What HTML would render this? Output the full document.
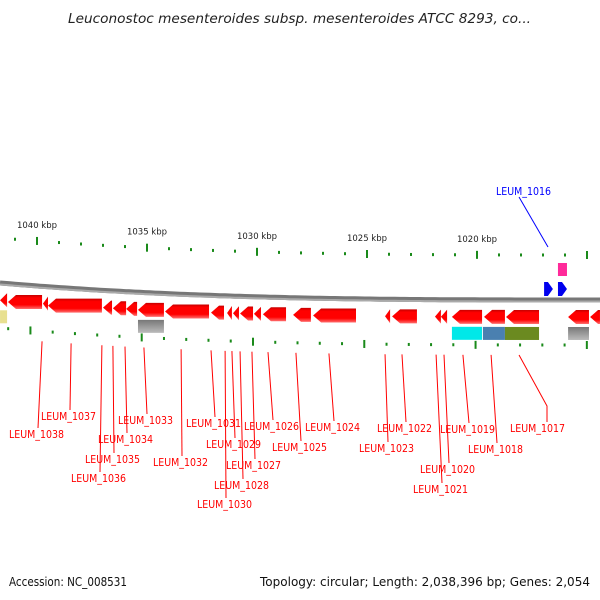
<!DOCTYPE html>
<html><head><meta charset="utf-8"><style>
body{margin:0;background:#fff}
svg{display:block}
text{font-family:"DejaVu Sans","Liberation Sans",sans-serif}
</style></head><body>
<svg id="c" width="600" height="600" viewBox="0 0 600 600" xmlns="http://www.w3.org/2000/svg">
<defs>
<linearGradient id="gr" x1="0" y1="0" x2="0" y2="1"><stop offset="0" stop-color="#c40000"/><stop offset="0.2" stop-color="#ff0000"/><stop offset="0.7" stop-color="#ff0000"/><stop offset="1" stop-color="#ff7070"/></linearGradient>
<linearGradient id="gb" x1="0" y1="0" x2="0" y2="1"><stop offset="0" stop-color="#777"/><stop offset="0.5" stop-color="#999"/><stop offset="1" stop-color="#bbb"/></linearGradient>
</defs>
<text x="68" y="23" font-size="13" font-style="italic" fill="#222" textLength="463" lengthAdjust="spacingAndGlyphs">Leuconostoc mesenteroides subsp. mesenteroides ATCC 8293, co...</text>
<text x="9" y="586" font-size="12" fill="#111" textLength="118" lengthAdjust="spacingAndGlyphs">Accession: NC_008531</text>
<text x="260" y="586" font-size="12" fill="#111" textLength="330" lengthAdjust="spacingAndGlyphs">Topology: circular; Length: 2,038,396 bp; Genes: 2,054</text>
<g id="g"></g>
</svg>
<script>
const tickKbp=[1040,1035,1030,1025,1020];
const geneStart=[1041.68,1041.32,1039.73,1039.50,1037.00,1036.55,1035.95,1035.41,1034.18,1032.09,1031.36,1031.09,1030.77,1030.14,1029.73,1028.36,1027.45,1024.18,1023.86,1021.91,1021.64,1021.14,1019.68,1018.68,1015.86,1014.86];
const geneEnd=[1041.36,1039.77,1039.50,1037.05,1036.59,1035.95,1035.45,1034.23,1032.18,1031.50,1031.14,1030.82,1030.18,1029.82,1028.68,1027.55,1025.50,1023.95,1022.73,1021.64,1021.36,1019.77,1018.73,1017.18,1014.91,1014.41];
const fwdStart=[1016.95,1016.32];
const fwdEnd=[1016.55,1015.91];
const annotStart=[1041.68,1035.41,1021.14,1019.73,1018.73,1015.86];
const annotEnd=[1041.36,1034.23,1019.77,1018.73,1017.18,1014.91];
const annotColor=['#e8e090','url(#gb)','#00e8e8','#4a80b0','#6b8a20','url(#gb)'];
const labelText=['LEUM_1038','LEUM_1037','LEUM_1036','LEUM_1035','LEUM_1034','LEUM_1033','LEUM_1032','LEUM_1031','LEUM_1029','LEUM_1030','LEUM_1028','LEUM_1027','LEUM_1026','LEUM_1025','LEUM_1024','LEUM_1023','LEUM_1022','LEUM_1021','LEUM_1020','LEUM_1019','LEUM_1018','LEUM_1017'];
const labelKbp=[1039.77,1038.45,1037.05,1036.55,1036.0,1035.14,1033.45,1032.09,1031.14,1031.45,1030.77,1030.23,1029.5,1028.23,1026.73,1024.18,1023.41,1021.86,1021.5,1020.64,1019.36,1018.09];
const labelY=[434,416,478,459,439,420,462,423,444,504,485,465,426,447,427,448,428,489,469,429,449,428];
const labelTextX=[9,41,71,85,98,118,153,186,206,197,214,226,244,272,305,359,377,413,420,440,468,510];

const NS='http://www.w3.org/2000/svg';
const G=document.getElementById('g');
function X(k){return 37+(1040-k)*22;}
function Yb(x){return 300-17*Math.pow(1-x/600,3);}
function el(t,a){const e=document.createElementNS(NS,t);for(const k in a)e.setAttribute(k,a[k]);G.appendChild(e);return e;}

let d='';for(let x=0;x<=600;x+=5){d+=(x?'L':'M')+x+','+Yb(x).toFixed(1);}
let bb=el('path',{d:d,fill:'none',stroke:'#777',"stroke-width":5});


let bb2=el('path',{d:d,fill:'none',stroke:'#aaa',"stroke-width":2,transform:'translate(0,1.5)'});



for(let k=1042;k>=1013;k--){
  const x=X(k); if(x<5||x>598)continue;
  const maj=(k%5===0);
  [[-45,'upper'],[45,'lower']].forEach(([off,nm])=>{
    const xx=nm==='lower'?x-7*(1-x/600):x;
    const y=Yb(xx)+off;
    const t=el('rect',{x:xx-1,y:maj?y-4:y-1.5,width:2,height:maj?8:3,fill:'#1a8a1a'});
    
    
  });
}
tickKbp.forEach(k=>{const x=X(k);const t=el('text',{x:x,y:Yb(x)-58,"font-size":8.5,"text-anchor":"middle",fill:'#222'});t.textContent=k+' kbp';

});

for(let i=0;i<geneStart.length;i++){
  const x1=X(geneStart[i]),x2=X(geneEnd[i]);const cx=(x1+x2)/2;const y=Yb(cx)+10;const h=14;
  const head=Math.min(8,x2-x1);
  const p=el('path',{d:`M${x1},${y+h/2} L${x1+head},${y} L${x2},${y} L${x2},${y+h} L${x1+head},${y+h} Z`,fill:'url(#gr)'});
  
  
}
for(let i=0;i<fwdStart.length;i++){
  const x1=X(fwdStart[i]),x2=X(fwdEnd[i]);const y=Yb(x1)-18;const h=14;
  const p=el('path',{d:`M${x1},${y} L${x2-5},${y} L${x2},${y+h/2} L${x2-5},${y+h} L${x1},${y+h} Z`,fill:'#0000ee'});
  
  
}
let pk=el('rect',{x:X(1016.32),y:263,width:X(1015.91)-X(1016.32),height:13,fill:'#ff2a9a'});


for(let i=0;i<annotStart.length;i++){
  const x1=X(annotStart[i]),x2=X(annotEnd[i]);const cx=(x1+x2)/2;const y=Yb(cx)+27;
  const r=el('rect',{x:x1,y:y,width:x2-x1,height:13,fill:annotColor[i]});
  
  
}
for(let i=0;i<labelText.length;i++){
  const gx=X(labelKbp[i]);const y0=Yb(gx)+55;const ty=labelY[i];
  const lx=labelTextX[i]+29;
  let dd;
  if(labelText[i]==='LEUM_1017'){dd=`M${gx},${y0} L${lx+8},${ty-22} L${lx+8},${ty-6}`;}
  else dd=`M${gx},${y0} L${lx},${ty-6}`;
  const l=el('path',{d:dd,stroke:'#f00',fill:'none',"stroke-width":1});
  
  
  const t=el('text',{x:labelTextX[i],y:ty+4,"font-size":10.5,fill:'#f00',textLength:55,lengthAdjust:'spacingAndGlyphs'});t.textContent=labelText[i];
  
  
}
let bl=el('path',{d:'M519,197 L548,247',stroke:'#00f',fill:'none'});


let bt=el('text',{x:496,y:195,"font-size":10.5,fill:'#00f',textLength:55,lengthAdjust:'spacingAndGlyphs'});bt.textContent='LEUM_1016';


</script>
</body></html>
